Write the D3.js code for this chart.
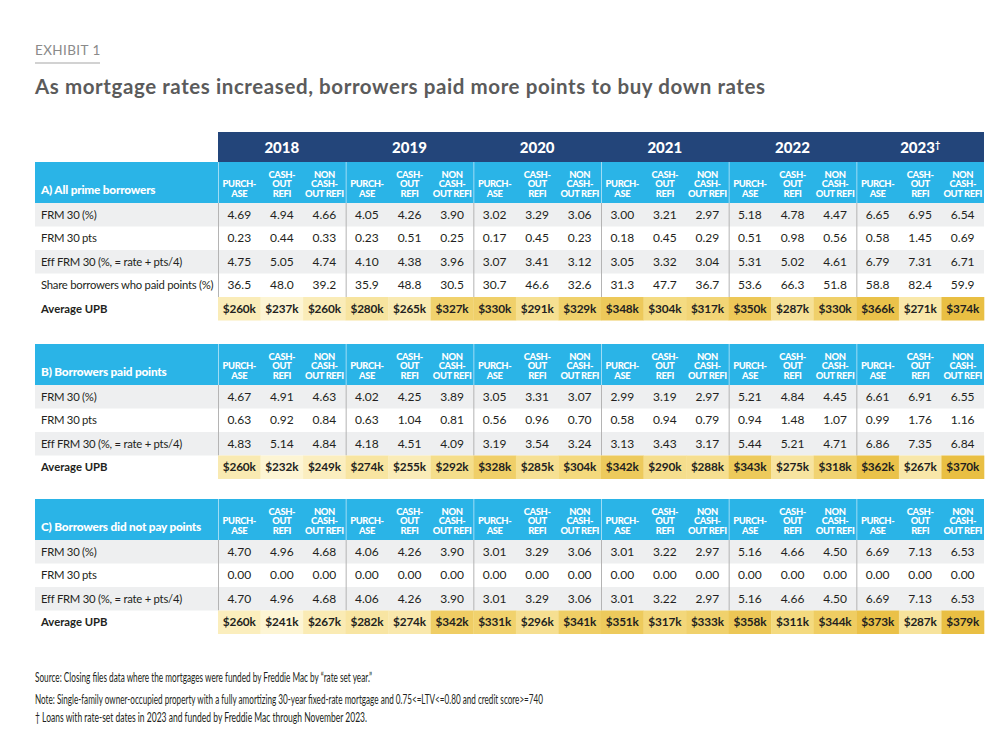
<!DOCTYPE html>
<html><head><meta charset="utf-8">
<script src="https://cdn.jsdelivr.net/npm/d3@7"></script>
<style>
html,body{margin:0;padding:0;background:#fff;}
svg{display:block;font-family:Lato,"Open Sans",sans-serif;}
</style></head>
<body><svg id="c" width="1000" height="749"></svg>
<script>
// ---------------- DATA ----------------
const exhibitLabel = "EXHIBIT 1";
const title = "As mortgage rates increased, borrowers paid more points to buy down rates";
const years = ["2018","2019","2020","2021","2022","2023"];
const yearMarks = ["","","","","","†"];
const loanTypes = [
  ["", "PURCH-", "ASE"],
  ["CASH-", "OUT", "REFI"],
  ["NON", "CASH-", "OUT REFI"]
];
const sectionNames = ["A) All prime borrowers", "B) Borrowers paid points", "C) Borrowers did not pay points"];
const rowLabelsA = ["FRM 30 (%)", "FRM 30 pts", "Eff FRM 30 (%, = rate + pts/4)", "Share borrowers who paid points (%)"];
const rowLabelsBC = ["FRM 30 (%)", "FRM 30 pts", "Eff FRM 30 (%, = rate + pts/4)"];
const upbLabel = "Average UPB";

const A_frm   = [4.69,4.94,4.66,4.05,4.26,3.90,3.02,3.29,3.06,3.00,3.21,2.97,5.18,4.78,4.47,6.65,6.95,6.54];
const A_pts   = [0.23,0.44,0.33,0.23,0.51,0.25,0.17,0.45,0.23,0.18,0.45,0.29,0.51,0.98,0.56,0.58,1.45,0.69];
const A_eff   = [4.75,5.05,4.74,4.10,4.38,3.96,3.07,3.41,3.12,3.05,3.32,3.04,5.31,5.02,4.61,6.79,7.31,6.71];
const A_share = [36.5,48.0,39.2,35.9,48.8,30.5,30.7,46.6,32.6,31.3,47.7,36.7,53.6,66.3,51.8,58.8,82.4,59.9];
const A_upb   = [260,237,260,280,265,327,330,291,329,348,304,317,350,287,330,366,271,374];

const B_frm   = [4.67,4.91,4.63,4.02,4.25,3.89,3.05,3.31,3.07,2.99,3.19,2.97,5.21,4.84,4.45,6.61,6.91,6.55];
const B_pts   = [0.63,0.92,0.84,0.63,1.04,0.81,0.56,0.96,0.70,0.58,0.94,0.79,0.94,1.48,1.07,0.99,1.76,1.16];
const B_eff   = [4.83,5.14,4.84,4.18,4.51,4.09,3.19,3.54,3.24,3.13,3.43,3.17,5.44,5.21,4.71,6.86,7.35,6.84];
const B_upb   = [260,232,249,274,255,292,328,285,304,342,290,288,343,275,318,362,267,370];

const C_frm   = [4.70,4.96,4.68,4.06,4.26,3.90,3.01,3.29,3.06,3.01,3.22,2.97,5.16,4.66,4.50,6.69,7.13,6.53];
const C_pts   = [0.00,0.00,0.00,0.00,0.00,0.00,0.00,0.00,0.00,0.00,0.00,0.00,0.00,0.00,0.00,0.00,0.00,0.00];
const C_eff   = [4.70,4.96,4.68,4.06,4.26,3.90,3.01,3.29,3.06,3.01,3.22,2.97,5.16,4.66,4.50,6.69,7.13,6.53];
const C_upb   = [260,241,267,282,274,342,331,296,341,351,317,333,358,311,344,373,287,379];

const footnotes = [
  "Source: Closing files data where the mortgages were funded by Freddie Mac by “rate set year.”",
  "Note: Single-family owner-occupied property with a fully amortizing 30-year fixed-rate mortgage and 0.75<=LTV<=0.80 and credit score>=740",
  "† Loans with rate-set dates in 2023 and funded by Freddie Mac through November 2023."
];

// ---------------- LAYOUT ----------------
const svg = d3.select("#c");
const W = 1000, H = 749;
svg.append("rect").attr("width", W).attr("height", H).attr("fill", "#fff");

const NAVY = "#23457a", BLUE = "#2ab4e7", GRAY = "#eeeff0", SEP = "#b4b4b4", TXT = "#231f20";
const left = 35, right = 984, labelRight = 218;
const cols = d3.range(years.length * loanTypes.length);
const x = d3.scaleBand().domain(cols).range([labelRight, right]);
const xYear = d3.scaleBand().domain(years).range([labelRight, right]);
const rowH = 23.5, headH = 41;

const f2 = d3.format(".2f"), f1 = d3.format(".1f");
const fk = v => "$" + v + "k";

const sections = [
  {name: sectionNames[0], top: 162, rows: [
    {label: rowLabelsA[0], vals: A_frm, fmt: f2},
    {label: rowLabelsA[1], vals: A_pts, fmt: f2},
    {label: rowLabelsA[2], vals: A_eff, fmt: f2},
    {label: rowLabelsA[3], vals: A_share, fmt: f1}], upb: A_upb},
  {name: sectionNames[1], top: 344, rows: [
    {label: rowLabelsBC[0], vals: B_frm, fmt: f2},
    {label: rowLabelsBC[1], vals: B_pts, fmt: f2},
    {label: rowLabelsBC[2], vals: B_eff, fmt: f2}], upb: B_upb},
  {name: sectionNames[2], top: 499, rows: [
    {label: rowLabelsBC[0], vals: C_frm, fmt: f2},
    {label: rowLabelsBC[1], vals: C_pts, fmt: f2},
    {label: rowLabelsBC[2], vals: C_eff, fmt: f2}], upb: C_upb}
];

// Title block
svg.append("text").attr("x", left).attr("y", 55).attr("fill", "#8a8a8a")
  .attr("font-size", 13.5).attr("letter-spacing", 0.4).text(exhibitLabel);
svg.append("rect").attr("x", left).attr("y", 62).attr("width", 65).attr("height", 2).attr("fill", "#d2d2d2");
svg.append("text").attr("x", left).attr("y", 94).attr("fill", "#5b5b5b")
  .attr("font-size", 20.5).attr("font-weight", 700)
  .attr("textLength", 730).attr("lengthAdjust", "spacing").text(title);

// Year band
svg.append("rect").attr("x", labelRight).attr("y", 132).attr("width", right - labelRight).attr("height", 30).attr("fill", NAVY);
const yt = svg.append("g").selectAll("text").data(years).join("text")
  .attr("x", d => xYear(d) + xYear.bandwidth() / 2).attr("y", 152.5)
  .attr("text-anchor", "middle").attr("fill", "#fff").attr("font-size", 15).attr("font-weight", 900);
yt.append("tspan").text(d => d);
yt.append("tspan").attr("dy", -5).attr("font-size", 9).text((d, i) => yearMarks[i]);

sections.forEach(sec => {
  const g = svg.append("g");
  // header
  g.append("rect").attr("x", left).attr("y", sec.top).attr("width", right - left).attr("height", headH).attr("fill", BLUE);
  g.append("text").attr("x", left + 6).attr("y", sec.top + 32).attr("fill", "#fff")
    .attr("font-size", 11.8).attr("font-weight", 900).attr("letter-spacing", -0.2).text(sec.name);
  const hg = g.append("g").selectAll("g").data(cols).join("g")
    .attr("transform", d => `translate(${x(d) + x.bandwidth() / 2},${sec.top})`);
  hg.each(function (c) {
    const lines = loanTypes[c % loanTypes.length];
    d3.select(this).selectAll("text").data(lines).join("text")
      .attr("x", 0).attr("y", (d, i) => 15.5 + i * 9.8)
      .attr("text-anchor", "middle").attr("fill", "#fff").attr("font-size", 9.4)
      .attr("font-weight", 900).attr("letter-spacing", -0.4).text(d => d);
  });
  // header separators
  g.append("g").selectAll("line").data(years).join("line")
    .attr("x1", d => xYear(d) + 0.5).attr("x2", d => xYear(d) + 0.5)
    .attr("y1", sec.top).attr("y2", sec.top + headH)
    .attr("stroke", "#9fdcf5").attr("stroke-width", 1);

  // body rows
  const bodyTop = sec.top + headH;
  sec.rows.forEach((r, ri) => {
    const y0 = bodyTop + ri * rowH;
    if (ri % 2 === 0) g.append("rect").attr("x", left).attr("y", y0).attr("width", right - left).attr("height", rowH).attr("fill", GRAY);
    g.append("text").attr("x", left + 6).attr("y", y0 + rowH / 2 + 4).attr("fill", TXT)
      .attr("font-size", 11.3).attr("letter-spacing", -0.25).text(r.label);
    g.append("g").selectAll("text").data(r.vals).join("text")
      .attr("x", (d, i) => x(i) + x.bandwidth() / 2).attr("y", y0 + rowH / 2 + 4.2)
      .attr("text-anchor", "middle").attr("fill", TXT).attr("font-size", 12).text(d => r.fmt(d));
  });
  const sepBottom = bodyTop + sec.rows.length * rowH;
  g.append("g").selectAll("line").data(years).join("line")
    .attr("x1", d => xYear(d) + 0.5).attr("x2", d => xYear(d) + 0.5)
    .attr("y1", bodyTop).attr("y2", sepBottom)
    .attr("stroke", SEP).attr("stroke-width", 1);

  // UPB row
  const uy = sepBottom;
  const ext = d3.extent(sec.upb);
  const color = d3.scaleLinear().domain([ext[0], (ext[0] + ext[1]) / 2, ext[1]])
    .range(["#fdf5d4", "#f4da80", "#e9bf43"]).interpolate(d3.interpolateRgb);
  g.append("text").attr("x", left + 6).attr("y", uy + rowH / 2 + 4).attr("fill", TXT)
    .attr("font-size", 11.3).attr("font-weight", 700).text(upbLabel);
  g.append("g").selectAll("rect").data(sec.upb).join("rect")
    .attr("x", (d, i) => x(i)).attr("y", uy).attr("width", x.bandwidth() + 0.3).attr("height", rowH)
    .attr("fill", d => color(d));
  g.append("g").selectAll("text").data(sec.upb).join("text")
    .attr("x", (d, i) => x(i) + x.bandwidth() / 2).attr("y", uy + rowH / 2 + 4.2)
    .attr("text-anchor", "middle").attr("fill", TXT).attr("font-size", 11.8).attr("font-weight", 700)
    .attr("letter-spacing", -0.15).text(d => fk(d));
});

// Footnotes
const fnWidths = [337, 508, 332];
svg.append("g").selectAll("text").data(footnotes).join("text")
  .attr("x", left).attr("y", (d, i) => [682, 704, 722][i])
  .attr("fill", TXT).attr("font-size", 12.5)
  .attr("textLength", (d, i) => fnWidths[i]).attr("lengthAdjust", "spacingAndGlyphs")
  .text(d => d);
</script></body></html>
